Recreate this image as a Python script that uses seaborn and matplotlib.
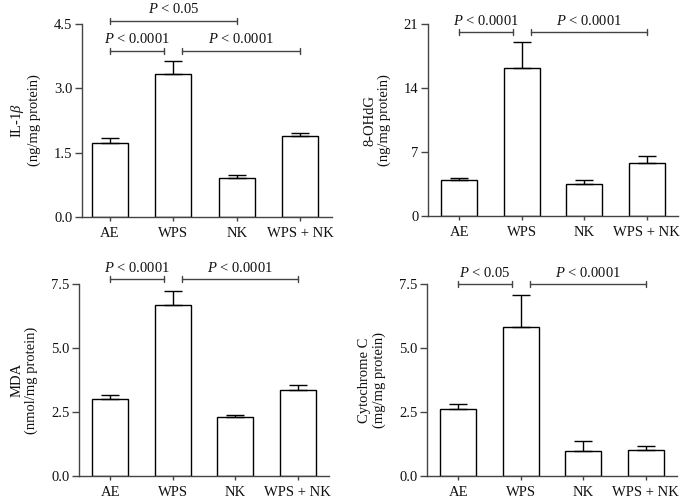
import numpy as np
import matplotlib
matplotlib.use("Agg")
import matplotlib.pyplot as plt
import seaborn as sns

# ------------------------------------------------------------
# data
# ------------------------------------------------------------
groups = ["AE", "WPS", "NK", "WPS + NK"]

il1b_mean = [1.73, 3.33, 0.92, 1.89]
il1b_sem = [0.12, 0.31, 0.07, 0.08]

ohdg_mean = [3.93, 16.15, 3.45, 5.85]
ohdg_sem = [0.27, 2.9, 0.48, 0.73]

mda_mean = [3.0, 6.68, 2.29, 3.35]
mda_sem = [0.18, 0.56, 0.08, 0.19]

cytc_mean = [2.62, 5.82, 0.99, 1.03]
cytc_sem = [0.21, 1.26, 0.36, 0.13]

# ------------------------------------------------------------
# style
# ------------------------------------------------------------
sns.set_style("ticks")
plt.rcParams["font.family"] = ["Liberation Serif", "DejaVu Serif"]
plt.rcParams["mathtext.fontset"] = "custom"
plt.rcParams["mathtext.rm"] = "Liberation Serif"
plt.rcParams["mathtext.it"] = "Liberation Serif:italic"
plt.rcParams["font.size"] = 10

axis_col = "#444444"
text_col = "#111111"


def bracket(ax, x0, x1, y, label, h):
    ax.plot([x0, x1], [y, y], color=axis_col, lw=1.0, clip_on=False)
    ax.plot([x0, x0], [y - h, y + h], color=axis_col, lw=1.0, clip_on=False)
    ax.plot([x1, x1], [y - h, y + h], color=axis_col, lw=1.0, clip_on=False)
    ax.text((x0 + x1) / 2, y + 1.4 * h, label, ha="center", va="bottom",
            fontsize=10.5, color=text_col, clip_on=False)


def panel(rect, means, sems, ylabel, yticks, fmt, xleft):
    ax = fig.add_axes(rect)
    sns.barplot(x=groups, y=means, color="white", edgecolor="black",
                linewidth=1.0, width=0.57, ax=ax)
    x = np.arange(len(groups))
    ax.errorbar(x, means, yerr=[np.zeros(len(sems)), sems], fmt="none",
                ecolor="black", elinewidth=1.0, capsize=6.2, capthick=1.0)
    ax.set_xlim(xleft, 3.5)
    ax.set_ylim(yticks[0], yticks[-1])
    ax.set_yticks(yticks)
    ax.set_yticklabels([fmt.format(t) for t in yticks], color=text_col)
    ax.set_xticks(x)
    ax.set_xticklabels(groups, color=text_col, fontsize=10.5)
    ax.set_ylabel(ylabel, fontsize=10.5, color=text_col, labelpad=9,
                  linespacing=1.15)
    ax.set_xlabel("")
    sns.despine(ax=ax)
    for s in ["left", "bottom"]:
        ax.spines[s].set_color(axis_col)
        ax.spines[s].set_linewidth(1.0)
    ax.tick_params(axis="y", labelsize=10.5, length=5, width=1.0,
                   color=axis_col, pad=2)
    ax.tick_params(axis="x", length=3, width=1.0, color=axis_col, pad=4)
    return ax


fig = plt.figure(figsize=(6.88, 5.04), dpi=100)

# IL-1beta
ax1 = panel([82 / 688, 287 / 504, 250 / 688, 193 / 504], il1b_mean, il1b_sem,
            "IL-1$\\mathit{\\beta}$\n(ng/mg protein)", [0, 1.5, 3.0, 4.5],
            "{:.1f}", -0.44)
bracket(ax1, 0, 2, 4.58, "$\\mathit{P}$ < 0.05", 0.07)
bracket(ax1, 0, 0.86, 3.88, "$\\mathit{P}$ < 0.0001", 0.07)
bracket(ax1, 1.14, 3, 3.88, "$\\mathit{P}$ < 0.0001", 0.07)

# 8-OHdG
ax2 = panel([428 / 688, 288 / 504, 250 / 688, 192 / 504], ohdg_mean, ohdg_sem,
            "8-OHdG\n(ng/mg protein)", [0, 7, 14, 21], "{:.0f}", -0.5)
bracket(ax2, 0, 0.86, 20.15, "$\\mathit{P}$ < 0.0001", 0.33)
bracket(ax2, 1.14, 3, 20.15, "$\\mathit{P}$ < 0.0001", 0.33)

# MDA
ax3 = panel([79 / 688, 28 / 504, 250 / 688, 192 / 504], mda_mean, mda_sem,
            "MDA\n(nmol/mg protein)", [0, 2.5, 5.0, 7.5], "{:.1f}", -0.5)
bracket(ax3, 0, 0.86, 7.68, "$\\mathit{P}$ < 0.0001", 0.12)
bracket(ax3, 1.14, 3, 7.68, "$\\mathit{P}$ < 0.0001", 0.12)

# Cytochrome C
ax4 = panel([427 / 688, 28 / 504, 250 / 688, 192 / 504], cytc_mean, cytc_sem,
            "Cytochrome C\n(mg/mg protein)", [0, 2.5, 5.0, 7.5], "{:.1f}", -0.5)
bracket(ax4, 0, 0.86, 7.49, "$\\mathit{P}$ < 0.05", 0.12)
bracket(ax4, 1.14, 3, 7.49, "$\\mathit{P}$ < 0.0001", 0.12)

fig.savefig("out.png", dpi=100)
